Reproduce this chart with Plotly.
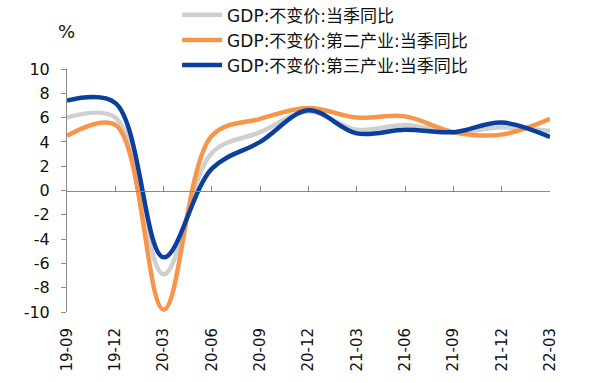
import plotly.graph_objects as go

quarters = ["19-09", "19-12", "20-03", "20-06", "20-09", "20-12",
            "21-03", "21-06", "21-09", "21-12", "22-03"]
gdp_total = [6.0, 6.0, -6.9, 3.1, 4.8, 6.5, 5.0, 5.4, 4.8, 5.2, 4.9]
gdp_secondary = [4.5, 5.4, -9.8, 4.5, 5.9, 6.8, 6.0, 6.1, 4.8, 4.6, 5.9]
gdp_tertiary = [7.4, 7.2, -5.5, 1.8, 4.0, 6.6, 4.7, 5.0, 4.8, 5.6, 4.4]
y_ticks = list(range(-10, 11, 2))
y_tick_labels = [str(v) for v in y_ticks]

names = ["GDP:不变价:当季同比", "GDP:不变价:第二产业:当季同比", "GDP:不变价:第三产业:当季同比"]
colors = ["#cfcfcf", "#f7964a", "#0a3f9e"]
series = [gdp_total, gdp_secondary, gdp_tertiary]

FONT = "DejaVu Sans, Noto Sans CJK SC, sans-serif"

fig = go.Figure()
for nm, col, vals in zip(names, colors, series):
    fig.add_trace(go.Scatter(
        x=quarters, y=vals, name=nm, mode="lines",
        line=dict(color=col, width=4.5, shape="spline", smoothing=1.0),
        hoverinfo="skip",
    ))

# helper trace so the zero-line axis exists
fig.add_trace(go.Scatter(x=quarters, y=[None] * len(quarters), xaxis="x2",
                         showlegend=False, hoverinfo="skip", mode="lines"))

fig.update_layout(
    width=593, height=382,
    margin=dict(l=67, r=43, t=69, b=70, autoexpand=False),
    paper_bgcolor="white", plot_bgcolor="white",
    font=dict(family=FONT, size=15, color="#111111"),
    showlegend=True,
    legend=dict(
        x=0.228, y=1.295, xanchor="left", yanchor="top",
        bgcolor="rgba(0,0,0,0)", borderwidth=0,
        font=dict(family=FONT, size=17, color="#111111"),
        tracegroupgap=0, itemwidth=40,
    ),
    xaxis=dict(
        type="category", categoryarray=quarters, range=[0, 10],
        showline=False, showgrid=False, zeroline=False,
        ticks="outside", ticklen=9, tickcolor="rgba(0,0,0,0)",
        tickangle=-90, tickfont=dict(size=15, family=FONT),
    ),
    xaxis2=dict(
        type="category", categoryarray=quarters, range=[0, 10],
        overlaying="x", anchor="free", position=0.5, side="bottom",
        showline=True, linecolor="#8a8a8a", linewidth=1,
        ticks="inside", ticklen=5, tickcolor="#8a8a8a", tickwidth=1,
        showticklabels=False, showgrid=False, zeroline=False,
    ),
    yaxis=dict(
        range=[-10, 10], tickvals=y_ticks, ticktext=y_tick_labels,
        showline=True, linecolor="#8a8a8a", linewidth=1,
        ticks="outside", ticklen=5, tickcolor="#8a8a8a",
        showgrid=False, zeroline=False, ticklabelstandoff=8,
        tickfont=dict(size=16, family=FONT),
    ),
    annotations=[dict(
        text="%", x=-0.022, y=1.155, xref="paper", yref="paper",
        xanchor="left", yanchor="middle", showarrow=False,
        font=dict(size=18, family=FONT, color="#111111"),
    )],
)

fig.write_html("out.html", config={"displayModeBar": False},
               post_script="document.body.style.margin='0px';")
